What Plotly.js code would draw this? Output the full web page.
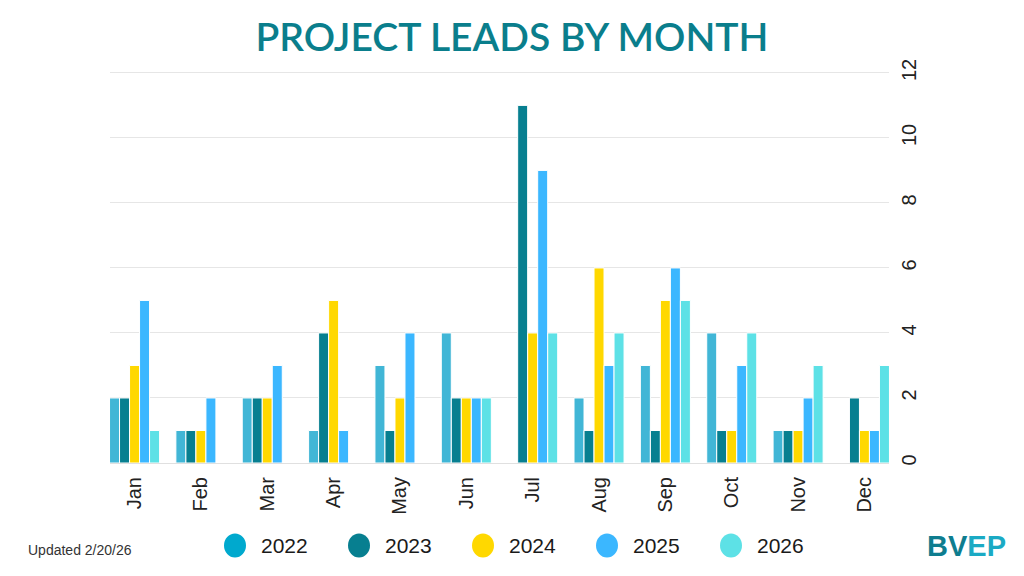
<!DOCTYPE html>
<html>
<head>
<meta charset="utf-8">
<script src="https://cdn.plot.ly/plotly-3.0.1.min.js"></script>
<style>html,body{margin:0;padding:0;background:#fff;}#chart{width:1024px;height:576px;}</style>
</head>
<body>
<div id="chart"></div>
<script>
const months = ["Jan","Feb","Mar","Apr","May","Jun","Jul","Aug","Sep","Oct","Nov","Dec"];
const years = ["2022","2023","2024","2025","2026"];
const leads2022 = [2,1,2,1,3,4,0,2,3,4,1,0];
const leads2023 = [2,1,2,4,1,2,11,1,1,1,1,2];
const leads2024 = [3,1,2,5,2,2,4,6,5,1,1,1];
const leads2025 = [5,2,3,1,4,2,9,3,6,3,2,1];
const leads2026 = [1,0,0,0,0,2,4,4,5,4,3,3];
const barColors = ["#41B6D6","#077F90","#FFD800","#3BB7FF","#5DE1E6"];
const legendColors = ["#00A9CE","#077F90","#FFD800","#3BB7FF","#5DE1E6"];
const yTicks = [0,2,4,6,8,10,12];

const series = [leads2022, leads2023, leads2024, leads2025, leads2026];

const W = 1024, H = 576;
const yMax = 12.15;
const pxPerUnit = 390.5 / 12;
const M = {l:110, r:135, t:73 - (yMax - 12) * pxPerUnit, b:112.5};
const pw = W - M.l - M.r, ph = H - M.t - M.b;
const px2x = px => (px - M.l) / pw;
const py2y = py => (H - M.b - py) / ph;

const traces = series.map((vals, i) => ({
  type: "bar",
  name: years[i],
  x: months,
  y: vals,
  marker: {color: barColors[i], line: {color: "#ffffff", width: 1}},
  showlegend: false,
  hoverinfo: "x+y+name"
}));

const shapes = [];
const annotations = [];
years.forEach((yr, i) => {
  const cx = 235 + i * 124;
  shapes.push({
    type: "circle", xref: "paper", yref: "paper",
    xsizemode: "pixel", ysizemode: "pixel",
    xanchor: px2x(cx), yanchor: py2y(546),
    x0: -11, x1: 11, y0: -12, y1: 12,
    fillcolor: legendColors[i], line: {width: 0}
  });
  annotations.push({
    xref: "paper", yref: "paper", x: px2x(cx + 24), y: py2y(546),
    xanchor: "left", yanchor: "middle", showarrow: false,
    text: yr, font: {family: "Liberation Sans, Arial, sans-serif", size: 21, color: "#1a1a1a"}
  });
});
annotations.push({
  xref: "paper", yref: "paper", x: px2x(26), y: py2y(551),
  xanchor: "left", yanchor: "middle", showarrow: false,
  text: "Updated 2/20/26", font: {family: "Liberation Sans, Arial, sans-serif", size: 14, color: "#333333"}
});
annotations.push({
  xref: "paper", yref: "paper", x: px2x(925), y: py2y(547),
  xanchor: "left", yanchor: "middle", showarrow: false,
  text: '<b><span style="color:#0E7D8F">BV</span><span style="color:#1BAAC4">EP</span></b>',
  font: {family: "Liberation Sans Narrow, sans-serif", size: 29, color: "#0E7D8F"}
});

const layout = {
  width: W, height: H,
  margin: M,
  paper_bgcolor: "#ffffff", plot_bgcolor: "#ffffff",
  title: {
    text: "PROJECT LEADS BY MONTH",
    font: {family: "Lato, Open Sans, sans-serif", size: 39, color: "#0A7E8C", weight: 600},
    x: 0.5, xanchor: "center", xref: "container",
    y: 1 - 37 / H, yanchor: "middle"
  },
  barmode: "group",
  bargap: 0.246,
  bargroupgap: 0,
  xaxis: {
    type: "category",
    range: [-0.37, 11.37],
    tickangle: -90,
    ticks: "",
    showgrid: false,
    showline: false,
    zeroline: false,
    tickfont: {family: "Liberation Sans, Arial, sans-serif", size: 20, color: "#222222"},
    ticklabelstandoff: 9,
    fixedrange: true
  },
  yaxis: {
    side: "right",
    range: [0, yMax],
    tickvals: yTicks,
    ticktext: yTicks.map(String),
    tickangle: -90,
    ticks: "",
    showgrid: true,
    gridcolor: "#E6E6E6",
    gridwidth: 1,
    zeroline: true,
    zerolinecolor: "#E0E0E0",
    zerolinewidth: 1,
    showline: false,
    tickfont: {family: "Liberation Sans, Arial, sans-serif", size: 20, color: "#222222"},
    ticklabelstandoff: 6,
    fixedrange: true
  },
  shapes: shapes,
  annotations: annotations
};

Plotly.newPlot("chart", traces, layout, {displayModeBar: false, staticPlot: true});
</script>
</body>
</html>
